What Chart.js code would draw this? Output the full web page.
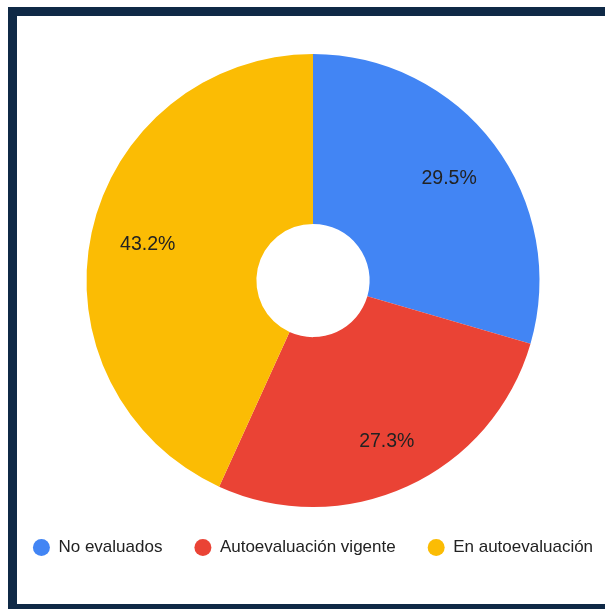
<!DOCTYPE html>
<html>
<head>
<meta charset="utf-8">
<script src="https://cdn.jsdelivr.net/npm/chart.js@4/dist/chart.umd.min.js"></script>
<style>
  html, body { margin: 0; padding: 0; background: #fff; overflow: hidden; }
  body { width: 605px; height: 609px; position: relative; }
  #frame { position: absolute; left: 8px; top: 7px; right: -20px; bottom: 0; background: #0f2946; }
  #panel { position: absolute; left: 17px; top: 16px; width: 608px; height: 588px; background: #fff; }
  #wrap { position: absolute; left: -3px; top: 16px; width: 632px; height: 588px; }
</style>
</head>
<body>
<div id="frame"></div>
<div id="panel"></div>
<div id="wrap"><canvas id="donut"></canvas></div>
<script>
const categories = ['No evaluados', 'Autoevaluación vigente', 'En autoevaluación'];
const values = [29.5, 27.3, 43.2];
const colors = ['#4285F4', '#EA4335', '#FBBC04'];

// porcentajes dentro de cada sector: la esquina exterior del texto queda a ~0.875 del radio
const sliceLabels = {
  id: 'sliceLabels',
  afterDatasetsDraw(chart) {
    const ctx = chart.ctx;
    const meta = chart.getDatasetMeta(0);
    ctx.save();
    ctx.font = '19.5px "Liberation Sans", Arial, sans-serif';
    ctx.fillStyle = '#222';
    ctx.textAlign = 'center';
    ctx.textBaseline = 'middle';
    meta.data.forEach(function (arc, i) {
      const text = values[i].toFixed(1) + '%';
      const mid = (arc.startAngle + arc.endAngle) / 2;
      const ux = Math.cos(mid), uy = Math.sin(mid);
      const cx = Math.sign(ux) * ctx.measureText(text).width / 2;
      const cy = Math.sign(uy) * 19 / 2;
      const rt = arc.outerRadius * 0.875;
      const uc = ux * cx + uy * cy;
      const d = -uc + Math.sqrt(uc * uc - (cx * cx + cy * cy) + rt * rt);
      ctx.fillText(text, arc.x + ux * d, arc.y + uy * d);
    });
    ctx.restore();
  }
};

new Chart(document.getElementById('donut').getContext('2d'), {
  type: 'doughnut',
  data: {
    labels: categories,
    datasets: [{
      data: values,
      backgroundColor: colors,
      borderWidth: 0,
      hoverOffset: 0
    }]
  },
  options: {
    responsive: true,
    maintainAspectRatio: false,
    animation: false,
    cutout: '25%',
    layout: { padding: { top: 38, bottom: 38, left: 0, right: 0 } },
    plugins: {
      tooltip: { enabled: false },
      legend: {
        position: 'bottom',
        labels: {
          usePointStyle: true,
          pointStyle: 'circle',
          boxHeight: 12,
          pointStyleWidth: 17,
          padding: 32,
          color: '#222',
          font: { family: '"Liberation Sans", Arial, sans-serif', size: 17 }
        }
      }
    }
  },
  plugins: [sliceLabels]
});
</script>
</body>
</html>
